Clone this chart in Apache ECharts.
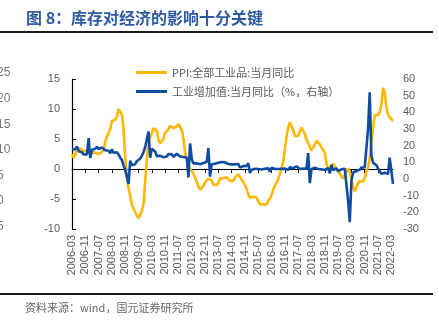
<!DOCTYPE html>
<html>
<head>
<meta charset="utf-8">
<script src="https://cdn.jsdelivr.net/npm/echarts@6/dist/echarts.min.js"></script>
<style>
html,body{margin:0;padding:0;background:#fff;}
#c{width:439px;height:327px;}
</style>
</head>
<body>
<div id="c"></div>
<script>
// Months 2006-03 .. 2022-04
var startYear = 2006, startMonth = 3, monthCount = 194;
var months = [];
for (var i = 0; i < monthCount; i++) {
  var m = startMonth - 1 + i;
  var y = startYear + Math.floor(m / 12);
  var mm = (m % 12) + 1;
  months.push(y + '-' + (mm < 10 ? '0' + mm : '' + mm));
}

var seriesNames = ['PPI:全部工业品:当月同比', '工业增加值:当月同比（%，右轴）'];

// PPI YoY (left axis)
var ppi = [
  2.5, 1.9, 2.4, 3.5, 3.6, 3.4, 3.5, 2.9, 2.8, 3.1,
  3.3, 2.6, 2.7, 2.8, 2.8, 2.5, 2.4, 2.6, 2.7, 3.2, 4.6, 5.4,
  6.1, 6.6, 8.0, 8.1, 8.2, 8.8, 10.0, 10.1, 9.1, 6.6, 2.0, -1.1,
  -3.3, -4.5, -6.0, -6.6, -7.2, -7.8, -8.2, -7.9, -7.0, -5.8, -2.1, 1.7,
  4.3, 5.4, 5.9, 6.8, 7.1, 6.4, 4.8, 4.3, 4.3, 5.0, 6.1, 5.9,
  6.6, 7.2, 7.3, 6.8, 6.8, 7.1, 7.5, 7.3, 6.5, 5.0, 2.7, 1.7,
  0.7, 0.0, -0.3, -0.7, -1.4, -2.1, -2.9, -3.5, -3.6, -2.8, -2.2, -1.9,
  -1.6, -1.6, -1.9, -2.6, -2.9, -2.7, -2.3, -1.6, -1.3, -1.5, -1.4, -1.4,
  -1.6, -2.0, -2.3, -2.0, -1.4, -1.1, -0.9, -1.2, -1.8, -2.2, -2.7, -3.3,
  -4.3, -4.8, -4.6, -4.6, -4.6, -4.8, -5.4, -5.9, -5.9, -5.9, -5.9, -5.9,
  -5.3, -4.9, -4.3, -3.4, -2.8, -2.6, -1.7, -0.8, 0.1, 1.2, 3.3, 5.5,
  6.9, 7.8, 7.6, 6.4, 5.5, 5.5, 5.5, 6.3, 6.9, 6.9, 5.8, 4.9,
  4.3, 3.7, 3.1, 3.4, 4.1, 4.7, 4.6, 4.1, 3.6, 3.3, 2.7, 0.9,
  0.1, 0.1, 0.4, 0.9, 0.6, 0.0, -0.3, -0.8, -1.2, -1.6, -1.4, -0.5,
  0.1, -0.4, -1.5, -3.1, -3.7, -3.0, -2.4, -2.0, -2.1, -2.1, -1.5, -0.4,
  0.3, 1.7, 4.4, 6.8, 9.0, 8.8, 9.0, 9.5, 10.7, 13.5, 12.9, 10.3,
  9.1, 8.8, 8.3, 8.0
];

// Industrial value added YoY (right axis)
var iva = [
  17.8, 16.6, 17.9, 19.5, 16.7, 15.7, 16.1, 14.7, 14.9, 14.7,
  24.5, 12.6, 17.6, 17.4, 18.1, 19.4, 18.0, 17.5, 18.9, 17.9, 17.3, 17.4,
  17.0, 15.4, 17.8, 15.7, 16.0, 16.0, 14.7, 12.8, 11.4, 8.2, 5.4, 5.7,
  -2.9, 11.0, 8.3, 7.3, 8.9, 10.7, 10.8, 12.3, 13.9, 16.1, 19.2, 18.5,
  28.5, 12.8, 18.1, 17.8, 16.5, 13.7, 13.4, 13.9, 13.3, 13.1, 13.3, 13.5,
  15.0, 14.9, 14.8, 13.4, 13.3, 15.1, 14.0, 13.5, 13.8, 13.2, 12.4, 12.8,
  1.0, 21.3, 11.9, 9.3, 9.6, 9.5, 9.2, 8.9, 9.2, 9.6, 10.1, 10.3,
  18.5, 1.4, 8.9, 9.3, 9.2, 8.9, 9.7, 10.4, 10.2, 10.3, 10.0, 9.7,
  9.0, 8.2, 8.8, 8.7, 8.8, 9.2, 9.0, 6.9, 8.0, 7.7, 7.2, 7.9,
  9.4, 3.6, 5.6, 5.9, 6.1, 6.8, 6.0, 6.1, 5.7, 5.6, 6.2, 5.9,
  6.5, 4.4, 6.8, 6.0, 6.0, 6.2, 6.0, 6.3, 6.1, 6.1, 6.2, 6.0,
  5.5, 7.0, 7.6, 6.5, 6.5, 7.6, 6.4, 6.0, 6.6, 6.2, 6.1, 6.2,
  15.5, -2.5, 6.0, 7.0, 6.8, 6.0, 6.0, 6.1, 5.8, 5.9, 5.4, 5.7,
  6.5, 3.4, 8.5, 5.4, 5.0, 6.3, 4.8, 4.4, 5.8, 4.7, 6.2, 6.9,
  -13.0, -25.9, -1.1, 3.9, 4.4, 4.8, 4.8, 5.6, 6.9, 6.9, 7.0, 7.3,
  30.0, 52.0, 14.1, 9.8, 8.8, 8.3, 6.4, 5.3, 3.1, 3.5, 3.8, 4.3,
  3.0, 12.8, 5.0, -2.9
];

// Left axis ticks / right axis ticks
var leftMin = -10, leftMax = 15, leftStep = 5;
var rightMin = -30, rightMax = 60, rightStep = 10;

// Cropped labels of neighbouring chart at the left edge
var ghostLabels = ['25', '20', '15', '10', '5', '0', '5'];

var titleText = '图 8：库存对经济的影响十分关键';
var sourceText = '资料来源：wind，国元证券研究所';

var chart = echarts.init(document.getElementById('c'), null, {renderer: 'canvas'});

var numFont = 'Liberation Sans, Arial, sans-serif';
var cjkFont = '"Noto Sans CJK SC", sans-serif';
var labelColor = '#595959';

var graphics = [
  {type: 'text', left: 26, top: 10, style: {text: titleText, font: 'bold 16px ' + cjkFont, fill: '#2F5BA0'}},
  {type: 'rect', shape: {x: 0, y: 31, width: 433, height: 2}, style: {fill: '#1a1a1a'}},
  {type: 'rect', shape: {x: 0, y: 293, width: 433, height: 2}, style: {fill: '#1a1a1a'}},
  {type: 'text', left: 25, top: 302, style: {text: sourceText, font: '11px ' + cjkFont, fill: '#666'}}
];
for (var g = 0; g < ghostLabels.length; g++) {
  graphics.push({type: 'text', x: -3, y: 67 + g * 25.6, style: {text: ghostLabels[g], font: '12px ' + numFont, fill: '#777'}});
}

var option = {
  animation: false,
  backgroundColor: '#fff',
  textStyle: {fontFamily: numFont},
  graphic: graphics,
  legend: {
    orient: 'vertical',
    left: 131,
    top: 62,
    itemWidth: 31,
    itemHeight: 3,
    itemGap: 8,
    icon: 'rect',
    textStyle: {fontFamily: cjkFont, fontSize: 11, color: labelColor},
    data: seriesNames
  },
  grid: {left: 72, right: 46, top: 79, bottom: 98, containLabel: false},
  xAxis: [
    {
      type: 'category',
      data: months,
      boundaryGap: false,
      position: 'bottom',
      axisLine: {show: false, onZero: false},
      axisTick: {show: false},
      splitLine: {show: false},
      axisLabel: {interval: 7, rotate: 90, margin: 6, fontSize: 11, color: labelColor, fontFamily: numFont}
    },
    {
      type: 'category',
      data: months,
      boundaryGap: false,
      position: 'bottom',
      axisLine: {show: true, onZero: true, onZeroAxisIndex: 0, lineStyle: {color: '#000', width: 1.2}},
      axisTick: {show: true, interval: 7, length: 4, inside: false, lineStyle: {color: '#000'}},
      axisLabel: {show: false},
      splitLine: {show: false}
    }
  ],
  yAxis: [
    {
      type: 'value',
      min: leftMin, max: leftMax, interval: leftStep,
      position: 'left',
      axisLine: {show: true, onZero: false, lineStyle: {color: '#000', width: 1.2}},
      axisTick: {show: true, inside: true, length: 4, lineStyle: {color: '#000'}},
      splitLine: {show: false},
      axisLabel: {margin: 12, fontSize: 11, color: labelColor, fontFamily: numFont}
    },
    {
      type: 'value',
      min: rightMin, max: rightMax, interval: rightStep,
      position: 'right',
      axisLine: {show: false},
      axisTick: {show: false},
      splitLine: {show: false},
      axisLabel: {margin: 10, fontSize: 11, color: labelColor, fontFamily: numFont}
    }
  ],
  series: [
    {
      name: seriesNames[0],
      type: 'line',
      xAxisIndex: 0,
      yAxisIndex: 0,
      data: ppi,
      symbol: 'none',
      smooth: false,
      lineStyle: {color: '#FFB800', width: 2.6},
      itemStyle: {color: '#FFB800'},
      z: 2
    },
    {
      name: seriesNames[1],
      type: 'line',
      xAxisIndex: 0,
      yAxisIndex: 1,
      data: iva,
      symbol: 'none',
      smooth: false,
      lineStyle: {color: '#0F4CA3', width: 2.6},
      itemStyle: {color: '#0F4CA3'},
      z: 3
    }
  ]
};
chart.setOption(option);
</script>
</body>
</html>
